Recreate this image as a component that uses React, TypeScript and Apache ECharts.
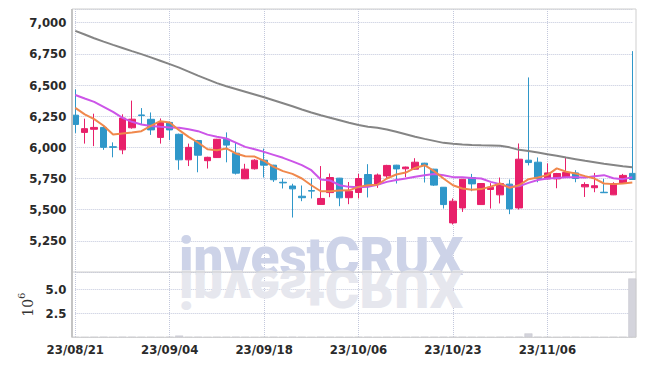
import React, { useEffect, useRef } from 'react';
import * as echarts from 'echarts';

const dates = ['23/08/21','23/08/22','23/08/23','23/08/24','23/08/25','23/08/28','23/08/29','23/08/30','23/08/31','23/09/01','23/09/04','23/09/05','23/09/06','23/09/07','23/09/08','23/09/11','23/09/12','23/09/13','23/09/14','23/09/15','23/09/18','23/09/19','23/09/20','23/09/21','23/09/22','23/09/25','23/09/26','23/09/27','23/10/04','23/10/05','23/10/06','23/10/10','23/10/11','23/10/12','23/10/13','23/10/16','23/10/17','23/10/18','23/10/19','23/10/20','23/10/23','23/10/24','23/10/25','23/10/26','23/10/27','23/10/30','23/10/31','23/11/01','23/11/02','23/11/03','23/11/06','23/11/07','23/11/08','23/11/09','23/11/10','23/11/13','23/11/14','23/11/15','23/11/16','23/11/17'];

const opens = [6258,6120,6145,6160,6005,5980,6157,6260,6225,6080,6200,6105,5900,6055,5893,5918,6065,5953,5748,5828,5897,5857,5720,5690,5608,5653,5542,5637,5753,5596,5638,5782,5705,5771,5857,5828,5825,5873,5825,5680,5394,5514,5758,5541,5662,5619,5705,5514,5897,5881,5747,5747,5758,5795,5683,5676,5640,5619,5711,5791];
const closes = [6184,6150,6160,6000,6000,6235,6226,6255,6140,6200,6140,5900,6000,5937,5920,6065,6018,5793,5825,5897,5857,5740,5715,5667,5596,5649,5590,5758,5595,5648,5750,5690,5778,5855,5827,5842,5881,5857,5697,5541,5568,5744,5707,5710,5680,5710,5506,5905,5878,5750,5795,5790,5798,5750,5702,5692,5636,5710,5775,5742];
const lows = [6116,6030,6010,5980,5920,5945,6150,6180,6100,6030,6058,5820,5850,5800,5830,5915,5880,5782,5745,5822,5758,5723,5670,5437,5568,5590,5540,5600,5528,5544,5590,5598,5675,5750,5710,5760,5822,5718,5690,5509,5381,5482,5648,5538,5509,5550,5464,5501,5855,5720,5744,5672,5755,5720,5602,5640,5635,5617,5708,5740];
const highs = [6465,6230,6270,6175,6040,6265,6375,6315,6280,6232,6205,6110,6030,6060,5925,6068,6120,6036,5868,5905,5990,5860,5750,5708,5694,5750,5850,5790,5755,5722,5787,5865,5790,5860,5860,5845,5913,5876,5828,5682,5590,5747,5787,5712,5713,5758,5742,6031,6561,5919,5871,5795,5919,5817,5720,5795,5747,5720,5787,6772];

const maLong = [6935,6905,6875,6848,6822,6797,6772,6748,6722,6695,6668,6640,6608,6575,6545,6515,6490,6468,6446,6424,6402,6378,6354,6330,6304,6280,6258,6238,6218,6198,6180,6166,6157,6143,6125,6105,6085,6068,6052,6036,6028,6022,6018,6016,6015,6012,6000,5980,5970,5958,5945,5932,5918,5905,5892,5880,5868,5858,5848,5840];
const ma20 = [6420,6392,6365,6325,6285,6237,6205,6184,6172,6165,6160,6157,6145,6130,6102,6085,6071,6038,6004,5985,5964,5940,5916,5888,5857,5817,5742,5734,5696,5683,5680,5683,5700,5723,5738,5750,5765,5777,5787,5777,5761,5761,5755,5750,5723,5705,5683,5688,5715,5738,5750,5755,5760,5760,5758,5768,5777,5752,5745,5760];
const ma5 = [6317,6265,6226,6173,6104,6112,6120,6130,6173,6210,6200,6138,6084,6039,5985,5977,5991,5951,5929,5926,5892,5844,5809,5787,5750,5696,5648,5648,5653,5655,5683,5696,5700,5750,5782,5798,5835,5857,5809,5750,5696,5670,5660,5665,5685,5710,5675,5696,5745,5758,5777,5831,5804,5790,5769,5750,5710,5705,5710,5718];

// volume in millions of shares
const volumes = [0.03,0.02,0.03,0.04,0.02,0.05,0.04,0.03,0.03,0.02,0.04,0.18,0.03,0.04,0.02,0.03,0.03,0.05,0.03,0.02,0.03,0.04,0.02,0.05,0.03,0.02,0.04,0.03,0.03,0.02,0.03,0.04,0.02,0.03,0.03,0.02,0.03,0.04,0.03,0.04,0.05,0.04,0.03,0.03,0.02,0.03,0.04,0.06,0.4,0.05,0.03,0.02,0.04,0.03,0.02,0.03,0.02,0.03,0.03,6.1];

const priceTicks = { min: 5000, max: 7110, interval: 250 };
const volTicks = { min: 0, max: 6.77, interval: 2.5 };

const RED = '#e8206a';
const BLUE = '#2f97c9';
const LABEL_FONT = "'DejaVu Sans Condensed', 'Liberation Sans Narrow', sans-serif";
const SPLIT = { show: true, lineStyle: { type: 'dotted', color: '#c3c8dc', width: 1 } };
const WM_FONT = "900 53px Roboto, 'Liberation Sans', Arial, sans-serif";

export default function App() {
  const ref = useRef<HTMLDivElement>(null);
  useEffect(() => {
    const chart = echarts.init(ref.current!, null, { renderer: 'svg' });
    const option: any = {
      animation: false,
      backgroundColor: '#ffffff',
      grid: [
        { left: 75.3, right: 12.7, top: 9, height: 263 },
        { left: 75.3, right: 12.7, top: 272, height: 65.3 },
      ],
      xAxis: [
        {
          type: 'category', gridIndex: 0, data: dates, boundaryGap: false,
          axisLine: { show: false }, axisTick: { show: false }, axisLabel: { show: false },
          splitLine: { ...SPLIT, interval: 9 },
        },
        {
          type: 'category', gridIndex: 1, data: dates, boundaryGap: false,
          axisLine: { show: false }, axisTick: { show: false },
          axisLabel: { interval: 9, fontSize: 13, fontWeight: 'bold', color: '#2a2a2a', fontFamily: LABEL_FONT, margin: 6 },
          splitLine: { ...SPLIT, interval: 9 },
        },
      ],
      yAxis: [
        {
          type: 'value', gridIndex: 0, min: priceTicks.min, max: priceTicks.max, interval: priceTicks.interval,
          axisLine: { show: false }, axisTick: { show: false },
          axisLabel: {
            showMinLabel: false, showMaxLabel: false, fontSize: 13, fontWeight: 'bold', color: '#2a2a2a', fontFamily: LABEL_FONT, margin: 9,
            formatter: (v: number) => v.toLocaleString('en-US'),
          },
          splitLine: SPLIT,
        },
        {
          type: 'value', gridIndex: 1, min: volTicks.min, max: volTicks.max, interval: volTicks.interval,
          axisLine: { show: false }, axisTick: { show: false },
          axisLabel: {
            showMinLabel: false, showMaxLabel: false, fontSize: 13, fontWeight: 'bold', color: '#2a2a2a', fontFamily: LABEL_FONT, margin: 9,
            formatter: (v: number) => v.toFixed(1),
          },
          splitLine: SPLIT,
          name: '{a|10}{b|6}', nameLocation: 'middle', nameRotate: 90, nameGap: 34,
          nameTextStyle: {
            rich: {
              a: { fontFamily: "'DejaVu Serif', serif", fontSize: 14, color: '#333', lineHeight: 18, verticalAlign: 'bottom' },
              b: { fontFamily: "'DejaVu Serif', serif", fontSize: 10, color: '#333', lineHeight: 18, verticalAlign: 'top' },
            },
          },
        },
      ],
      series: [
        {
          type: 'candlestick', xAxisIndex: 0, yAxisIndex: 0, clip: false, barWidth: 7,
          data: dates.map((_, i) => [opens[i], closes[i], lows[i], highs[i]]),
          itemStyle: { color: RED, color0: BLUE, borderColor: RED, borderColor0: BLUE, borderWidth: 1 },
        },
        {
          type: 'line', xAxisIndex: 0, yAxisIndex: 0, data: maLong, showSymbol: false,
          lineStyle: { color: '#858585', width: 2 },
        },
        {
          type: 'line', xAxisIndex: 0, yAxisIndex: 0, data: ma20, showSymbol: false,
          lineStyle: { color: '#cc55e8', width: 2 },
        },
        {
          type: 'line', xAxisIndex: 0, yAxisIndex: 0, data: ma5, showSymbol: false,
          lineStyle: { color: '#f0884c', width: 2 },
        },
        {
          type: 'bar', xAxisIndex: 1, yAxisIndex: 1, data: volumes, barWidth: 8, clip: false,
          itemStyle: { color: '#d4d4dc', borderColor: '#c4c4cc', borderWidth: 0.5 },
        },
      ],
      graphic: [
        {
          type: 'text', x: 179, y: 283, z: 1, silent: true,
          style: { text: 'investCRUX', font: WM_FONT, fill: '#cdd3e8', verticalAlign: 'bottom' },
        },
        {
          type: 'text', x: 179, y: 261, scaleY: -1, z: 1, silent: true,
          style: { text: 'investCRUX', font: WM_FONT, fill: '#e6e7ee', verticalAlign: 'bottom' },
        },
        { type: 'rect', z: 10, silent: true, shape: { x: 72, y: 9, width: 564, height: 328.3 }, style: { fill: 'none', stroke: '#cfcfcf', lineWidth: 1 } },
        { type: 'line', z: 10, silent: true, shape: { x1: 72, y1: 272, x2: 636, y2: 272 }, style: { stroke: '#cfcfcf', lineWidth: 1 } },
        { type: 'line', z: 10, silent: true, shape: { x1: 72, y1: 9, x2: 72, y2: 337.3 }, style: { stroke: '#c4c4c4', lineWidth: 2 } },
      ],
    };
    chart.setOption(option);
    return () => chart.dispose();
  }, []);
  return <div ref={ref} style={{ position: 'fixed', left: 0, top: 0, width: 645, height: 366 }} />;
}
